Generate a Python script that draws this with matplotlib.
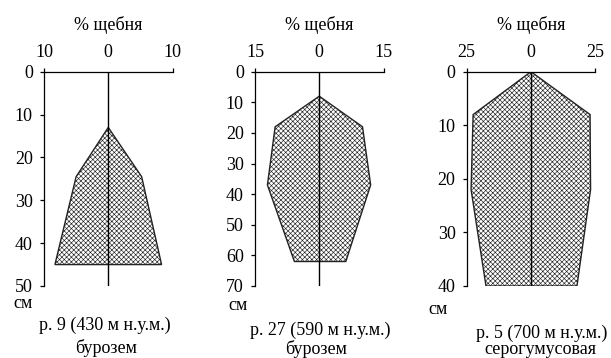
import matplotlib
matplotlib.use('Agg')
import matplotlib.pyplot as plt
from matplotlib.transforms import blended_transform_factory

plt.rcParams['font.family'] = 'Liberation Serif'
plt.rcParams['font.size'] = 13
plt.rcParams['hatch.linewidth'] = 0.45
plt.rcParams['hatch.color'] = '#3a3a3a'

# глубина (см) и содержание щебня (%) слева / справа от оси
depth1 = [13, 24.5, 45]
left1 = [0, 5.0, 8.3]
right1 = [0, 5.2, 8.3]

depth2 = [8, 18, 37, 62]
left2 = [0, 10.3, 12.1, 5.8]
right2 = [0, 10.1, 12.0, 6.2]

depth3 = [0, 8, 22, 40]
left3 = [0, 22.5, 23.3, 17.5]
right3 = [0, 23.0, 23.2, 17.9]

xlims = [10, 15, 25]
ymaxs = [50, 70, 40]
captions = ['р. 9 (430 м н.у.м.)', 'р. 27 (590 м н.у.м.)', 'р. 5 (700 м н.у.м.)']
soils = ['бурозем', 'бурозем', 'серогумусовая']

W, H = 611, 358
fig = plt.figure(figsize=(W / 100, H / 100), dpi=100)

lefts = [44, 255, 466.7]
top_px, bot_px = 71.7, 286
ax_w = 128.5

profiles = [(depth1, left1, right1), (depth2, left2, right2), (depth3, left3, right3)]

for i, (d, l, r) in enumerate(profiles):
    L = xlims[i]
    ymax = ymaxs[i]
    ax = fig.add_axes([lefts[i] / W, 1 - bot_px / H, ax_w / W, (bot_px - top_px) / H])

    xs = [-v for v in l] + r[::-1]
    ys = d + d[::-1]
    ax.fill(xs, ys, facecolor='white', edgecolor='#222222', hatch='xxxxxxx', linewidth=1.0)
    ax.plot([0, 0], [0, ymax], color='black', linewidth=1.0)

    ax.set_xlim(-L, L)
    ax.set_ylim(ymax, 0)
    ax.spines['right'].set_visible(False)
    ax.spines['bottom'].set_visible(False)
    ax.spines['left'].set_linewidth(0.9)
    ax.spines['top'].set_linewidth(0.9)

    ax.xaxis.tick_top()
    ax.set_xticks([-L, 0, L])
    ax.set_xticklabels([str(L), '0', str(L)])
    ax.tick_params(axis='x', direction='out', length=3, width=0.9, pad=5)
    ax.xaxis.get_major_ticks()[1].tick2line.set_visible(False)

    ax.set_yticks(range(0, ymax + 1, 10))
    ax.tick_params(axis='y', direction='out', length=3, width=0.9, pad=5)

    tr = blended_transform_factory(ax.transData, fig.transFigure)
    ax.text(0, 1 - 25 / H, '% щебня', transform=tr, ha='center', va='center')

    cm_y = [304, 305, 310][i]
    cm_x = [23, 238, 438][i]
    fig.text(cm_x / W, 1 - cm_y / H, 'см', ha='center', va='center')
    cap_y = [325, 330, 333][i]
    cap_x = [105, 320, 542][i]
    fig.text(cap_x / W, 1 - cap_y / H, captions[i], ha='center', va='center')
    soil_y = [353, 354, 354][i]
    soil_x = [106, 316, 540][i]
    fig.text(soil_x / W, 1 - soil_y / H, soils[i], ha='center', va='baseline')

fig.savefig('out.png', dpi=100)
